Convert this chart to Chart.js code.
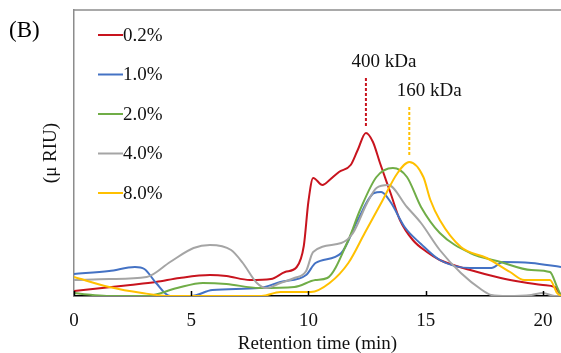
<!DOCTYPE html>
<html>
<head>
<meta charset="utf-8">
<script src="https://cdn.jsdelivr.net/npm/chart.js@4"></script>
<style>
  html, body { margin: 0; padding: 0; background: #fff; }
  #wrap { position: relative; width: 561px; height: 353px; }
</style>
</head>
<body>
<div id="wrap"><canvas id="chart" width="561" height="353"></canvas></div>
<script>
// series labels + colours
const seriesLabels = ['0.2%', '1.0%', '2.0%', '4.0%', '8.0%'];
const seriesColors = ['#C8141E', '#4472C4', '#70AD47', '#A5A5A5', '#FFC000'];

// retention time (min) / signal (arbitrary µRIU units)
const timeRed = [0, 1.2, 2.4, 3.5, 4.5, 5.8, 6.5, 7.5, 8.4, 9.0, 9.5, 9.8, 10.0, 10.2, 10.6, 10.9, 11.3, 11.8, 12.1, 12.45, 12.75, 13.05, 13.5, 13.9, 14.45, 15.05, 15.6, 16.9, 18.2, 19.1, 20.0, 20.5, 20.7, 20.77];
const valRed  = [5, 8, 11, 14, 18, 21, 20, 16, 17, 24, 29, 50, 95, 118, 111, 116, 124, 131, 146, 163, 154, 133, 103, 76, 56, 44, 36, 26, 18, 14, 11, 9, 3, 0];

const timeBlue = [0, 1.5, 2.6, 3.0, 3.5, 4.1, 5.0, 5.9, 7.9, 8.8, 9.9, 10.3, 11.4, 12.1, 12.8, 13.1, 13.5, 14.1, 14.8, 15.6, 16.9, 17.8, 18.3, 19.5, 20.77];
const valBlue  = [22, 25, 29, 27, 13, 0, 0, 6, 8, 14, 21, 33, 43, 76, 103, 104, 94, 69, 52, 36, 28, 28, 34, 33, 29];

const timeGreen = [0, 0.8, 1.5, 3.1, 4.4, 5.5, 6.5, 7.9, 9.4, 10.3, 10.8, 11.7, 12.2, 12.9, 13.6, 14.2, 14.8, 15.6, 16.9, 18.2, 19.5, 20.3, 20.6, 20.77];
const valGreen  = [3, 1, 0, 0, 8, 13, 12, 8, 9, 16, 18, 56, 86, 119, 128, 119, 89, 63, 43, 34, 26, 24, 9, 0];

const timeGray = [0, 1.5, 3.1, 4.1, 5.1, 5.8, 6.7, 7.2, 7.8, 8.2, 8.8, 9.4, 9.9, 10.2, 11.4, 11.9, 12.5, 12.9, 13.4, 14.2, 14.8, 15.6, 16.5, 17.4, 17.8, 18.5, 19.5, 20.0, 20.5, 20.77];
const valGray  = [16, 17, 19, 34, 48, 51, 46, 33, 13, 8, 13, 18, 25, 44, 53, 63, 93, 108, 111, 89, 73, 46, 23, 6, 1, 0, 1, 3, 0, 0];

const timeYellow = [0, 1.5, 2.9, 4.1, 6.0, 8.0, 8.8, 10.1, 10.9, 11.7, 12.4, 13.1, 13.8, 14.3, 14.9, 15.2, 15.6, 16.5, 17.6, 18.6, 19.2, 20.3, 20.6, 20.77];
const valYellow  = [19, 9, 3, 0, 0, 0, 4, 4, 13, 33, 63, 93, 123, 134, 119, 96, 76, 49, 38, 24, 16, 16, 3, 0];

const xTicks = [0, 5, 10, 15, 20];

// peak markers
const markerLabels = ['400 kDa', '160 kDa'];
const markerTimes = [12.45, 14.3];

const allTimes = [timeRed, timeBlue, timeGreen, timeGray, timeYellow];
const allVals = [valRed, valBlue, valGreen, valGray, valYellow];

const serif = '"Liberation Serif", "Times New Roman", serif';

const datasets = seriesLabels.map((label, i) => ({
  label,
  data: allTimes[i].map((t, j) => ({ x: t, y: allVals[i][j] })),
  borderColor: seriesColors[i],
  borderWidth: 2,
  pointRadius: 0,
  fill: false,
  cubicInterpolationMode: 'monotone'
}));
// draw order like the original: red on top
datasets.reverse();

const extras = {
  id: 'extras',
  afterDraw(chart) {
    const { ctx, chartArea: a, scales: { x } } = chart;
    ctx.save();
    // top frame line
    ctx.strokeStyle = '#8c8c8c';
    ctx.lineWidth = 1.5;
    ctx.beginPath();
    ctx.moveTo(a.left, a.top);
    ctx.lineTo(a.right, a.top);
    ctx.stroke();

    // inside tick marks on the x axis
    ctx.strokeStyle = '#000';
    ctx.lineWidth = 1.5;
    xTicks.forEach(t => {
      const px = Math.round(x.getPixelForValue(t)) + 0.5;
      ctx.beginPath();
      ctx.moveTo(px, a.bottom);
      ctx.lineTo(px, a.bottom - 5);
      ctx.stroke();
    });

    // panel letter
    ctx.fillStyle = '#000';
    ctx.font = '23px ' + serif;
    ctx.textAlign = 'left';
    ctx.textBaseline = 'middle';
    ctx.fillText('(B)', 9, 31);

    // legend inside the plot
    ctx.font = '19px ' + serif;
    seriesLabels.forEach((lab, i) => {
      const yy = 35 + i * 39.5;
      ctx.strokeStyle = seriesColors[i];
      ctx.lineWidth = 2;
      ctx.beginPath();
      ctx.moveTo(98, yy);
      ctx.lineTo(123, yy);
      ctx.stroke();
      ctx.fillStyle = '#111';
      ctx.fillText(lab, 123, yy + 1);
    });

    // peak markers
    const mColors = [seriesColors[0], seriesColors[4]];
    const mLabelY = [62, 91];
    const mTop = [78, 107];
    const mBottom = [127, 156];
    markerLabels.forEach((lab, i) => {
      const px = x.getPixelForValue(markerTimes[i]);
      ctx.strokeStyle = mColors[i];
      ctx.lineWidth = 2;
      ctx.setLineDash([3, 2]);
      ctx.beginPath();
      ctx.moveTo(px, mTop[i]);
      ctx.lineTo(px, mBottom[i]);
      ctx.stroke();
      ctx.setLineDash([]);
      ctx.fillStyle = '#111';
      ctx.textAlign = 'center';
      ctx.fillText(lab, px + (i === 0 ? 18 : 20), mLabelY[i]);
    });
    ctx.restore();
  }
};

new Chart(document.getElementById('chart'), {
  type: 'line',
  data: { datasets },
  options: {
    responsive: false,
    animation: false,
    layout: { padding: { top: 10, right: 0, left: 0, bottom: 0 } },
    plugins: { legend: { display: false }, tooltip: { enabled: false } },
    scales: {
      x: {
        type: 'linear',
        min: 0,
        max: 20.77,
        afterFit: s => { s.height = 57; s.paddingRight = 0; s.paddingLeft = 0; },
        border: { display: true, color: '#000', width: 1.5 },
        grid: { display: false, drawTicks: false },
        ticks: {
          stepSize: 5,
          includeBounds: false,
          padding: 14,
          color: '#111',
          font: { family: serif, size: 19 }
        },
        title: {
          display: true,
          text: 'Retention time (min)',
          color: '#111',
          padding: { top: 0, bottom: -2 },
          font: { family: serif, size: 19 }
        }
      },
      y: {
        min: 0,
        max: 286,
        afterFit: s => { s.width = 74; },
        border: { display: true, color: '#8c8c8c', width: 1.5 },
        grid: { display: false, drawTicks: false },
        ticks: { display: false },
        title: {
          display: true,
          text: '(μ RIU)',
          color: '#111',
          padding: { top: 40, bottom: 0 },
          font: { family: serif, size: 19 }
        }
      }
    }
  },
  plugins: [extras]
});
</script>
</body>
</html>
